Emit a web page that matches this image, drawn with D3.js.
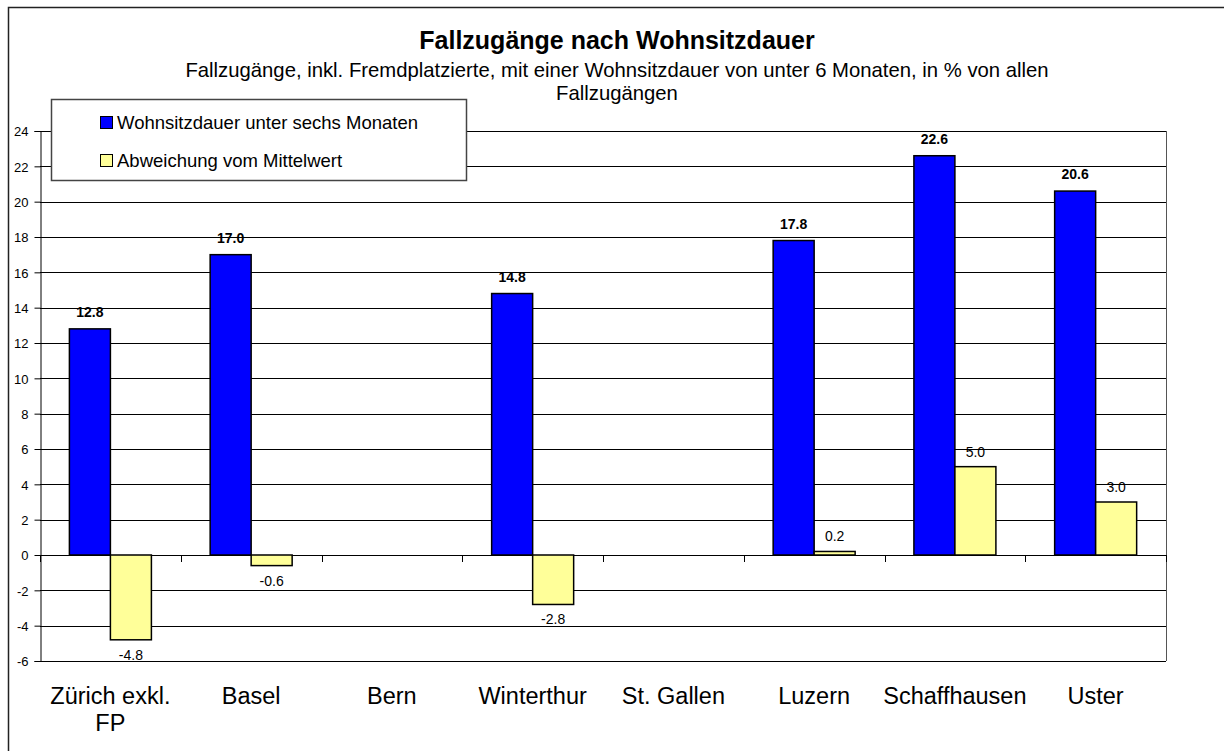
<!DOCTYPE html>
<html>
<head>
<meta charset="utf-8">
<script src="https://cdn.jsdelivr.net/npm/d3@7"></script>
<style>
  body { margin: 0; background: #fff; }
  svg { display: block; font-family: "Liberation Sans", Arial, sans-serif; }
</style>
</head>
<body>
<svg width="1224" height="751"></svg>
<script>
// data
var categories = ["Zürich exkl. FP", "Basel", "Bern", "Winterthur", "St. Gallen", "Luzern", "Schaffhausen", "Uster"];
var labelLines = [["Zürich exkl.", "FP"], ["Basel"], ["Bern"], ["Winterthur"], ["St. Gallen"], ["Luzern"], ["Schaffhausen"], ["Uster"]];
var seriesNames = ["Wohnsitzdauer unter sechs Monaten", "Abweichung vom Mittelwert"];
var wohnsitz = [12.8, 17.0, null, 14.8, null, 17.8, 22.6, 20.6];
var abweichung = [-4.8, -0.6, null, -2.8, null, 0.2, 5.0, 3.0];
var yTicks = [-6, -4, -2, 0, 2, 4, 6, 8, 10, 12, 14, 16, 18, 20, 22, 24];

var colors = ["#0000ff", "#ffff99"];

// plain hyphen as minus sign, like the original
var locale = d3.formatLocale({ decimal: ".", thousands: "", grouping: [3], currency: ["", ""], minus: "-" });
var fmtVal = locale.format(".1f");
var fmtTick = locale.format("d");

var svg = d3.select("svg");

// outer frame (right and bottom run off the picture)
svg.append("rect")
  .attr("x", 8.5).attr("y", 7.5)
  .attr("width", 1240).attr("height", 760)
  .attr("fill", "#fff")
  .attr("stroke", "#222")
  .attr("stroke-width", 1.5);

// plot area
var plot = { left: 40, right: 1166, top: 131, bottom: 661 };

var x = d3.scaleBand()
  .domain(categories)
  .range([plot.left, plot.right]);

var xInner = d3.scaleBand()
  .domain([0, 1])
  .range([29.4, 29.4 + 82]);

var y = d3.scaleLinear()
  .domain([-6, 24])
  .range([plot.bottom, plot.top]);

// gridlines
svg.append("g")
  .selectAll("line")
  .data(yTicks)
  .enter()
  .append("line")
  .attr("x1", plot.left)
  .attr("x2", plot.right)
  .attr("y1", function(d) { return Math.round(y(d)) + 0.5; })
  .attr("y2", function(d) { return Math.round(y(d)) + 0.5; })
  .attr("stroke", "#000")
  .attr("stroke-width", 1);

// plot border (right side)
svg.append("line")
  .attr("x1", plot.right + 0.5).attr("x2", plot.right + 0.5)
  .attr("y1", plot.top).attr("y2", plot.bottom)
  .attr("stroke", "#555");

// y axis
var yAxis = svg.append("g")
  .attr("transform", "translate(" + (plot.left + 0.5) + ",0)")
  .call(d3.axisLeft(y).tickValues(yTicks).tickSize(6).tickPadding(6).tickFormat(fmtTick));
yAxis.select(".domain").attr("stroke", "#000");
yAxis.selectAll(".tick line").attr("stroke", "#000");
yAxis.selectAll(".tick text")
  .attr("font-size", "13px")
  .attr("font-family", "'Liberation Sans', Arial, sans-serif")
  .attr("fill", "#000")
  .attr("dy", "0.36em");

// category ticks on zero line
var bounds = categories.map(function(c) { return x(c); }).concat([plot.right]);
svg.append("g")
  .selectAll("line")
  .data(bounds)
  .enter()
  .append("line")
  .attr("x1", function(d) { return Math.round(d) + 0.5; })
  .attr("x2", function(d) { return Math.round(d) + 0.5; })
  .attr("y1", Math.round(y(0)))
  .attr("y2", Math.round(y(0)) + 7)
  .attr("stroke", "#000");

// bars
var rows = categories.map(function(c, i) {
  return { cat: c, values: [wohnsitz[i], abweichung[i]] };
});

var groups = svg.append("g")
  .selectAll("g")
  .data(rows)
  .enter()
  .append("g")
  .attr("transform", function(d) { return "translate(" + x(d.cat) + ",0)"; });

function present(d) {
  return d.values.map(function(v, k) { return { k: k, v: v }; })
    .filter(function(e) { return e.v !== null; });
}

groups.selectAll("rect")
  .data(present)
  .enter()
  .append("rect")
  .attr("x", function(d) { return xInner(d.k); })
  .attr("width", xInner.bandwidth())
  .attr("y", function(d) { return y(Math.max(0, d.v)); })
  .attr("height", function(d) { return Math.abs(y(d.v) - y(0)); })
  .attr("fill", function(d) { return colors[d.k]; })
  .attr("stroke", "#000")
  .attr("stroke-width", 1.5);

groups.selectAll("text.val")
  .data(present)
  .enter()
  .append("text")
  .attr("class", "val")
  .attr("x", function(d) { return xInner(d.k) + xInner.bandwidth() / 2; })
  .attr("y", function(d) {
    if (d.k === 0) return y(d.v) - 12;
    return d.v >= 0 ? y(d.v) - 10 : y(d.v) + 20;
  })
  .attr("text-anchor", "middle")
  .attr("font-size", "14px")
  .attr("font-weight", function(d) { return d.k === 0 ? "bold" : "normal"; })
  .text(function(d) { return fmtVal(d.v); });

// category labels
var catLabels = svg.append("g")
  .selectAll("text")
  .data(categories)
  .enter()
  .append("text")
  .attr("x", function(d) { return x(d) + x.bandwidth() / 2; })
  .attr("y", 704)
  .attr("text-anchor", "middle")
  .attr("font-size", "23.5px");

catLabels.selectAll("tspan")
  .data(function(d, i) { return labelLines[i]; })
  .enter()
  .append("tspan")
  .attr("x", function() { return d3.select(this.parentNode).attr("x"); })
  .attr("dy", function(d, j) { return j === 0 ? 0 : 27; })
  .text(function(d) { return d; });

// title
svg.append("text")
  .attr("x", 617)
  .attr("y", 49)
  .attr("text-anchor", "middle")
  .attr("font-size", "25px")
  .attr("font-weight", "bold")
  .text("Fallzugänge nach Wohnsitzdauer");

var subtitle = ["Fallzugänge, inkl. Fremdplatzierte, mit einer Wohnsitzdauer von unter 6 Monaten, in % von allen", "Fallzugängen"];
svg.append("g")
  .selectAll("text")
  .data(subtitle)
  .enter()
  .append("text")
  .attr("x", 617)
  .attr("y", function(d, i) { return 77 + i * 23; })
  .attr("text-anchor", "middle")
  .attr("font-size", "20.3px")
  .text(function(d) { return d; });

// legend
var legend = svg.append("g");
legend.append("rect")
  .attr("x", 51.5).attr("y", 99.5)
  .attr("width", 415).attr("height", 81)
  .attr("fill", "#fff")
  .attr("stroke", "#444")
  .attr("stroke-width", 1.5);

var items = legend.selectAll("g.item")
  .data(seriesNames)
  .enter()
  .append("g")
  .attr("class", "item")
  .attr("transform", function(d, i) { return "translate(0," + (129 + i * 38) + ")"; });

items.append("rect")
  .attr("x", 100.5).attr("y", -12.5)
  .attr("width", 12).attr("height", 12)
  .attr("fill", function(d, i) { return colors[i]; })
  .attr("stroke", "#000");

items.append("text")
  .attr("x", 117)
  .attr("y", 0)
  .attr("font-size", "18.5px")
  .text(function(d) { return d; });
</script>
</body>
</html>
